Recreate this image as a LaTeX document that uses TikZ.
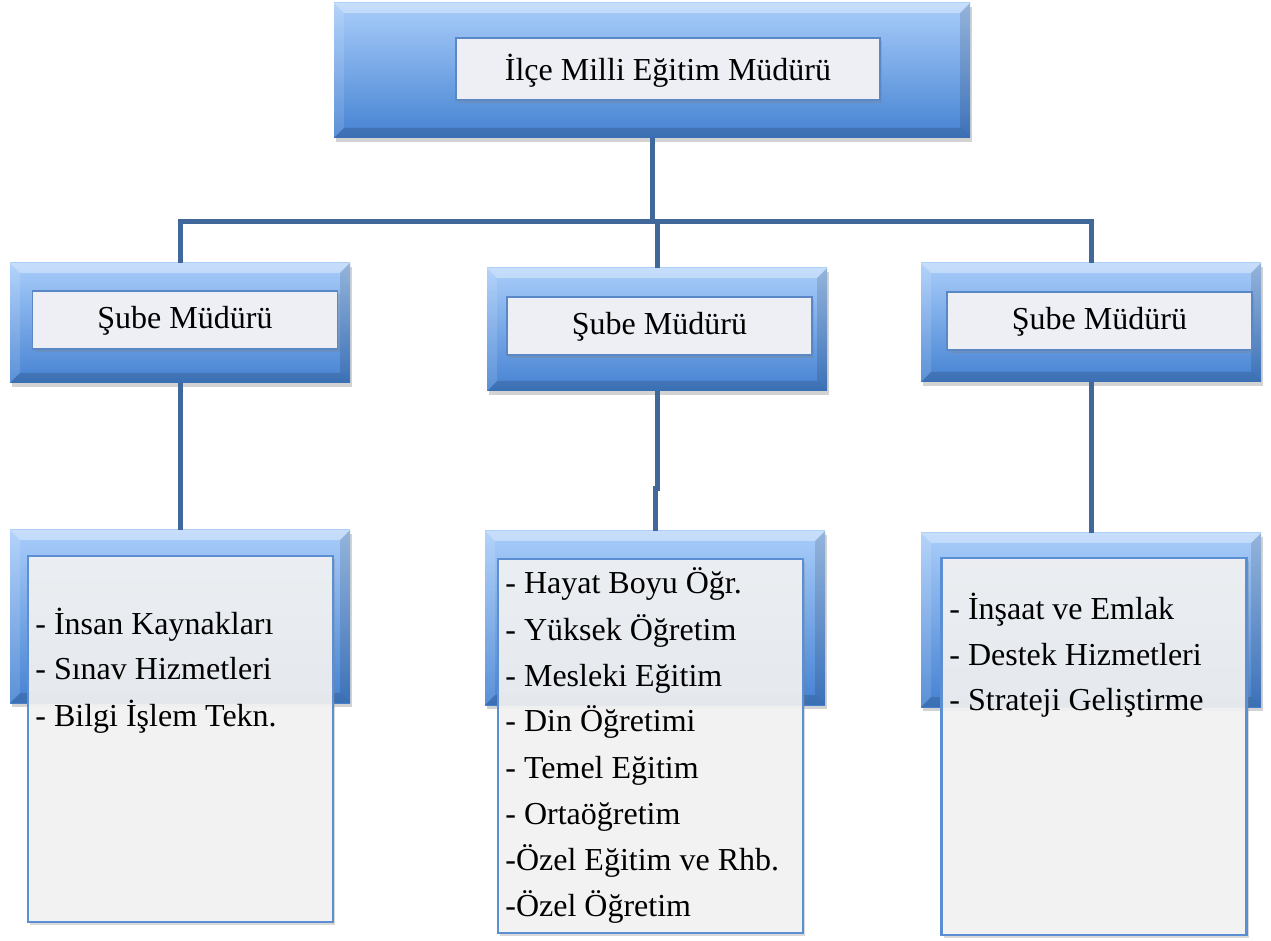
\documentclass[tikz,border=0pt]{standalone}
\usepackage{fontspec}
\setmainfont{Liberation Serif}
\usetikzlibrary{shadows, positioning}

\definecolor{linkblue}{HTML}{41689B}
\definecolor{boxtop}{HTML}{A9CDFA}
\definecolor{boxbot}{HTML}{4582D2}
\definecolor{lblfill}{HTML}{EDEFF5}
\definecolor{lbledge}{HTML}{5A88C6}
\definecolor{listfill}{HTML}{F5F5F5}
\definecolor{listedge}{HTML}{5B8ED2}

\tikzset{
    bevels/.style={path picture={
        \fill[white, opacity=.35] (path picture bounding box.north west) -- (path picture bounding box.north east)
            -- ([shift={(-5pt,-5pt)}]path picture bounding box.north east) -- ([shift={(5pt,-5pt)}]path picture bounding box.north west) -- cycle;
        \fill[white, opacity=.12] (path picture bounding box.north west) -- ([shift={(5pt,-5pt)}]path picture bounding box.north west)
            -- ([shift={(5pt,5pt)}]path picture bounding box.south west) -- (path picture bounding box.south west) -- cycle;
        \fill[black, opacity=.12] (path picture bounding box.north east) -- ([shift={(-5pt,-5pt)}]path picture bounding box.north east)
            -- ([shift={(-5pt,5pt)}]path picture bounding box.south east) -- (path picture bounding box.south east) -- cycle;
        \fill[black, opacity=.14] (path picture bounding box.south west) -- (path picture bounding box.south east)
            -- ([shift={(-5pt,5pt)}]path picture bounding box.south east) -- ([shift={(5pt,5pt)}]path picture bounding box.south west) -- cycle;
    }},
    bluebox/.style={rectangle, top color=boxtop, bottom color=boxbot, minimum width=170pt, inner sep=0,
        drop shadow={shadow xshift=1.2pt, shadow yshift=-1.8pt, opacity=.35}, bevels},
    labelbox/.style={rectangle, draw=lbledge, line width=0.8pt, fill=lblfill, minimum width=152.5pt,
        minimum height=29pt, inner sep=0, text height=9pt, text depth=0pt, font=\fontsize{16}{19}\selectfont,
        drop shadow={shadow xshift=1pt, shadow yshift=-1.5pt, opacity=.3}},
    listbox/.style={rectangle, draw=listedge, line width=1.2pt, fill=listfill, fill opacity=.9,
        minimum width=152.5pt, inner sep=0,
        drop shadow={shadow xshift=1pt, shadow yshift=-1.5pt, opacity=.3}},
    item/.style={anchor=base west, inner sep=0, font=\fontsize{16}{19}\selectfont},
    link/.style={draw=linkblue, line width=2.5pt}
}

\begin{document}
\begin{tikzpicture}[x=0.5pt, y=-0.5pt]
        \useasboundingbox (0,0) rectangle (1271,941);

        % top
        \node[bluebox, minimum width=318pt, minimum height=67.5pt] (mudur) at (652, 70.5) {};
        \node[labelbox, minimum width=212pt, minimum height=31pt, text height=12pt] (mudurlbl) at (668, 69) {İlçe Milli Eğitim Müdürü};

        % sube mudurleri
        \node[bluebox, minimum height=60pt] (sube1) at (180, 323) {};
        \node[labelbox] (sube1lbl) at (185, 320) {Şube Müdürü};
        \node[bluebox, minimum height=61.5pt] (sube2) at (657, 329.5) {};
        \node[labelbox] (sube2lbl) at (659.5, 326) {Şube Müdürü};
        \node[bluebox, minimum height=59.5pt] (sube3) at (1091, 322.5) {};
        \node[labelbox] (sube3lbl) at (1099.5, 321) {Şube Müdürü};

        % birimler
        \node[bluebox, minimum height=86.5pt] (birim1) at (180, 616.5) {};
        \node[bluebox, minimum height=87pt] (birim2) at (655, 618) {};
        \node[bluebox, minimum height=87pt] (birim3) at (1091, 620) {};
        \node[listbox, minimum height=183pt] (liste1) at (180.5, 739) {};
        \node[listbox, minimum height=187pt] (liste2) at (650.5, 746) {};
        \node[listbox, minimum height=188.5pt] (liste3) at (1094, 746.5) {};

        \node[item] (l1a) at (35, 634) {- İnsan Kaynakları};
        \node[item] (l1b) at (35, 680) {- Sınav Hizmetleri};
        \node[item] (l1c) at (35, 726) {- Bilgi İşlem Tekn.};

        \node[item] (l2a) at (505, 594) {- Hayat Boyu Öğr.};
        \node[item] (l2b) at (505, 640) {- Yüksek Öğretim};
        \node[item] (l2c) at (505, 686) {- Mesleki Eğitim};
        \node[item] (l2d) at (505, 732) {- Din Öğretimi};
        \node[item] (l2e) at (505, 778) {- Temel Eğitim};
        \node[item] (l2f) at (505, 824) {- Ortaöğretim};
        \node[item] (l2g) at (505, 870) {-Özel Eğitim ve Rhb.};
        \node[item] (l2h) at (505, 916) {-Özel Öğretim};

        \node[item] (l3a) at (949, 619) {- İnşaat ve Emlak};
        \node[item] (l3b) at (949, 665) {- Destek Hizmetleri};
        \node[item] (l3c) at (949, 711) {- Strateji Geliştirme};

        % connectors
        \draw[link] (mudur.south) -- ++(0,83) coordinate (bus);
        \draw[link] (sube1.north) |- (bus) -| (sube3.north);
        \draw[link] (bus) -| (sube2.north);
        \draw[link] (sube1.south) -- (birim1.north);
        \draw[link] (sube2.south) -- ++(0,97) -| (birim2.north);
        \draw[link] (sube3.south) -- (birim3.north);
\end{tikzpicture}
\end{document}
